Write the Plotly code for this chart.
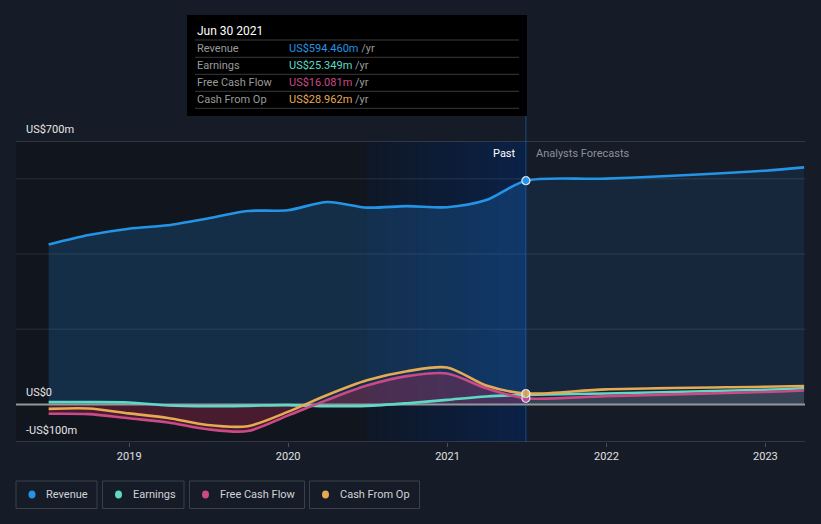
import plotly.graph_objects as go
import pandas as pd

# ---------------- data ----------------
past_dates = ["2018-06-30", "2018-09-30", "2018-12-31", "2019-03-31", "2019-06-30",
              "2019-09-30", "2019-12-31", "2020-03-31", "2020-06-30", "2020-09-30",
              "2020-12-31", "2021-03-31", "2021-06-30"]
fc_dates = ["2021-06-30", "2021-12-31", "2022-12-31", "2023-03-31"]

revenue_past = [425, 450, 467, 476, 494, 514, 516, 538, 523, 527, 524, 543, 594.46]
revenue_fc = [594.46, 600, 621, 630]
earnings_past = [6, 6, 5, -3, -5, -4, -2, -5, -4, 3, 12, 21, 25.349]
earnings_fc = [25.349, 29, 39, 43]
fcf_past = [-25, -26, -37, -48, -66, -71, -30, 12, 50, 75, 82, 43, 16.081]
fcf_fc = [16.081, 22, 33, 37]
cfo_past = [-12, -11, -24, -36, -55, -58, -20, 25, 64, 88, 98, 50, 28.962]
cfo_fc = [28.962, 40, 47, 49]

series_names = ["Revenue", "Earnings", "Free Cash Flow", "Cash From Op"]
tooltip_date = "Jun 30 2021"
tooltip_values = ["US$594.460m", "US$25.349m", "US$16.081m", "US$28.962m"]
year_ticks = ["2019-01-01", "2020-01-01", "2021-01-01", "2022-01-01", "2023-01-01"]
year_labels = ["2019", "2020", "2021", "2022", "2023"]
y_labels = [(700, "US$700m"), (0, "US$0"), (-100, "-US$100m")]
band_start, band_end = "2020-06-30", "2021-06-30"

# ---------------- style ----------------
BG = "#161c27"
C_REV = "#2394e6"
C_EARN = "#5fd9c6"
C_FCF = "#c94a86"
C_CFO = "#e6aa55"
colors = [C_REV, C_EARN, C_FCF, C_CFO]
FONT = "Roboto"
SPL = dict(shape="spline", smoothing=0.8)

W, H = 821, 524
PL, PR, PT, PB = 16, 805, 141, 442
X_RANGE = ["2018-04-16", "2023-04-02"]
Y_RANGE = [-100, 700]


def px(x):
    return (x - PL) / (PR - PL)


def py(y):
    return (PB - y) / (PB - PT)


fig = go.Figure()

# fills
fig.add_trace(go.Scatter(x=past_dates, y=revenue_past, mode="lines", line=dict(width=0, **SPL),
                         fill="tozeroy", fillcolor="rgba(40,140,230,0.21)", hoverinfo="skip", showlegend=False))
fig.add_trace(go.Scatter(x=fc_dates, y=revenue_fc, mode="lines", line=dict(width=0, **SPL),
                         fill="tozeroy", fillcolor="rgba(40,140,230,0.11)", hoverinfo="skip", showlegend=False))
fig.add_trace(go.Scatter(x=past_dates, y=fcf_past, mode="lines", line=dict(width=0, **SPL),
                         fill="tozeroy", fillcolor="rgba(190,45,80,0.32)", hoverinfo="skip", showlegend=False))
fig.add_trace(go.Scatter(x=fc_dates, y=fcf_fc, mode="lines", line=dict(width=0, **SPL),
                         fill="tozeroy", fillcolor="rgba(200,200,210,0.17)", hoverinfo="skip", showlegend=False))

# zero line
fig.add_trace(go.Scatter(x=X_RANGE, y=[0, 0], mode="lines", line=dict(color="#96979b", width=2),
                         hoverinfo="skip", showlegend=False))

# lines
all_dates = past_dates + fc_dates[1:]
line_data = [
    (earnings_past + earnings_fc[1:], C_EARN),
    (fcf_past + fcf_fc[1:], C_FCF),
    (cfo_past + cfo_fc[1:], C_CFO),
    (revenue_past + revenue_fc[1:], C_REV),
]
for vals, col in line_data:
    fig.add_trace(go.Scatter(x=all_dates, y=vals, mode="lines",
                             line=dict(color=col, width=2.6, **SPL),
                             hoverinfo="skip", showlegend=False))

# markers at Jun 30 2021
mk_vals = [revenue_past[-1], earnings_past[-1], fcf_past[-1], cfo_past[-1]]
fig.add_trace(go.Scatter(x=[past_dates[-1]] * 4, y=mk_vals, mode="markers",
                         marker=dict(size=8, color=colors, line=dict(color="#e8e8f0", width=1.2)),
                         hoverinfo="skip", showlegend=False))

shapes = []
# darker past region
shapes.append(dict(type="rect", xref="x", yref="paper", x0=X_RANGE[0], x1=band_end, y0=0, y1=1,
                   fillcolor="rgba(0,0,0,0.22)", line=dict(width=0), layer="below"))
# highlighted year band drawn as a horizontal gradient of strips
b0, b1 = pd.Timestamp(band_start), pd.Timestamp(band_end)
n_strips = 16
for i in range(n_strips):
    s0 = b0 + (b1 - b0) * i / n_strips
    s1 = b0 + (b1 - b0) * (i + 1) / n_strips
    a = 0.08 + 0.30 * (i + 0.5) / n_strips
    shapes.append(dict(type="rect", xref="x", yref="paper", x0=s0.isoformat(), x1=s1.isoformat(), y0=0, y1=1,
                       fillcolor=f"rgba(0,55,140,{a:.3f})", line=dict(width=0), layer="below"))
# gridlines
for gv in [200, 400, 600]:
    shapes.append(dict(type="line", xref="paper", yref="y", x0=0, x1=1, y0=gv, y1=gv,
                       line=dict(color="rgba(255,255,255,0.07)", width=1.5), layer="below"))
for gv in [700, -100]:
    shapes.append(dict(type="line", xref="paper", yref="y", x0=0, x1=1, y0=gv, y1=gv,
                       line=dict(color="#3c424c", width=1.5), layer="below"))
# vertical divider
shapes.append(dict(type="line", xref="x", yref="paper", x0=band_end, x1=band_end, y0=0, y1=py(116),
                   line=dict(color="rgba(35,130,230,0.45)", width=1), layer="above"))
# tooltip box
shapes.append(dict(type="rect", xref="paper", yref="paper", x0=px(187), x1=px(527), y0=py(116), y1=py(15),
                   fillcolor="#000000", line=dict(width=0), layer="above"))
for sy in [40, 57.3, 74.3, 91.3, 108.3]:
    shapes.append(dict(type="line", xref="paper", yref="paper", x0=px(195), x1=px(519), y0=py(sy), y1=py(sy),
                       line=dict(color="#3a3a3a", width=1), layer="above"))
# legend boxes
legend_boxes = [(16, 97), (102.5, 184), (189.5, 304.5), (309.5, 419.5)]
for (bx0, bx1), col in zip(legend_boxes, colors):
    shapes.append(dict(type="rect", xref="paper", yref="paper", x0=px(bx0), x1=px(bx1), y0=py(508.5), y1=py(481),
                       fillcolor="rgba(0,0,0,0)", line=dict(color="#3a404a", width=1)))
    cx = bx0 + 16
    shapes.append(dict(type="circle", xref="paper", yref="paper", x0=px(cx - 3.5), x1=px(cx + 3.5),
                       y0=py(498.5), y1=py(490.5), fillcolor=col, line=dict(width=0)))

annotations = []
# y labels
for val, txt in y_labels:
    ypx = PB - (val - Y_RANGE[0]) / (Y_RANGE[1] - Y_RANGE[0]) * (PB - PT) - 12
    annotations.append(dict(xref="paper", yref="paper", x=px(24), y=py(ypx), text=txt, showarrow=False,
                            xanchor="left", yanchor="middle", font=dict(family=FONT, size=11, color="#e6e6e6")))
annotations.append(dict(xref="paper", yref="paper", x=px(518), y=py(153), text="Past", showarrow=False,
                        xanchor="right", yanchor="middle", font=dict(family=FONT, size=11, color="#ffffff")))
annotations.append(dict(xref="paper", yref="paper", x=px(534), y=py(153), text="Analysts Forecasts", showarrow=False,
                        xanchor="left", yanchor="middle", font=dict(family=FONT, size=11, color="#8b9099")))
# tooltip texts
annotations.append(dict(xref="paper", yref="paper", x=px(195), y=py(31), text=tooltip_date, showarrow=False,
                        xanchor="left", yanchor="middle", font=dict(family=FONT, size=12, color="#ffffff")))
for i, (nm, val, col) in enumerate(zip(series_names, tooltip_values, colors)):
    ry = 48.3 + 17 * i
    annotations.append(dict(xref="paper", yref="paper", x=px(195), y=py(ry), text=nm, showarrow=False,
                            xanchor="left", yanchor="middle", font=dict(family=FONT, size=11, color="#9a9a9a")))
    annotations.append(dict(xref="paper", yref="paper", x=px(287), y=py(ry),
                            text=f'<span style="color:{col}">{val}</span> /yr', showarrow=False,
                            xanchor="left", yanchor="middle", font=dict(family=FONT, size=11, color="#9a9a9a")))
# legend texts
for (bx0, bx1), nm in zip(legend_boxes, series_names):
    annotations.append(dict(xref="paper", yref="paper", x=px(bx0 + 28), y=py(494.5), text=nm, showarrow=False,
                            xanchor="left", yanchor="middle", font=dict(family=FONT, size=11, color="#d0d3d8")))

fig.update_layout(
    width=W, height=H,
    margin=dict(l=PL, r=W - PR, t=PT, b=H - PB),
    paper_bgcolor=BG, plot_bgcolor=BG,
    showlegend=False,
    shapes=shapes, annotations=annotations,
    xaxis=dict(type="date", range=X_RANGE, tickvals=year_ticks, ticktext=year_labels,
               showgrid=False, zeroline=False, showline=False, ticks="outside", ticklen=4,
               tickcolor="#4a505a", tickfont=dict(family=FONT, size=11, color="#e0e0e0")),
    yaxis=dict(range=Y_RANGE, showgrid=False, zeroline=False, showticklabels=False, showline=False),
    font=dict(family=FONT),
)

fig.write_html("out.html", config={"displayModeBar": False},
               post_script="document.body.style.margin='0px';document.body.style.background='#161c27';")
